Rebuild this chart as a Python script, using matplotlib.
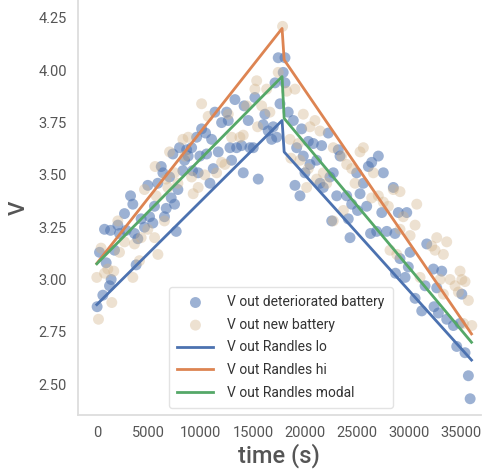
import matplotlib
matplotlib.use("Agg")
import matplotlib.pyplot as plt

# ---- data ----
det_t = [30, 580, 1380, 1220, 3780, 260, 900, 740, 1320, 2020, 2180, 1700, 2820, 3620, 3940,
         2660, 3460, 3240, 4260, 4580, 5070, 5380, 4900, 5860, 5540, 6670, 6500, 7150, 7630,
         6190, 6350, 6990, 7790, 7310, 7950, 8430, 8270, 7470, 9110, 8630, 8780, 9900, 10550,
         11670, 12790, 13430, 13910, 14710, 15030, 12950, 11190, 9740, 10870, 14070, 15510,
         9200, 10070, 10450, 11030, 9590, 11350, 12470, 12630, 11990, 14550, 16150, 15990,
         16470, 16950, 16800, 17280, 13270, 14150, 15190, 17600, 17120, 17910, 17430, 18080,
         18080, 18390, 18880, 19680, 22240, 20320, 20800, 21600, 19200, 19840, 20480, 21120,
         20000, 23200, 23370, 22400, 22720, 21440, 21760, 19040, 19520, 23050, 24010, 24970,
         26090, 26410, 27050, 27530, 25610, 25290, 24490, 25050, 25930, 22570, 24160, 24330,
         26300, 26890, 27380, 28490, 28970, 29780, 27860, 28650, 29130, 30100, 28700, 29620,
         29930, 31700, 32340, 33140, 31540, 32660, 30580, 31220, 32400, 32820, 33620, 34260,
         35070, 34900, 34580, 35380, 35700, 35870]
det_v = [2.87, 2.925, 3.00, 2.97, 3.07, 3.13, 3.08, 3.24, 3.235, 3.26, 3.22, 3.14, 3.235, 3.22, 3.195,
         3.315, 3.36, 3.40, 3.29, 3.25, 3.30, 3.27, 3.45, 3.46, 3.35, 3.34, 3.30, 3.39, 3.23,
         3.54, 3.51, 3.49, 3.43, 3.60, 3.63, 3.57, 3.52, 3.36, 3.63, 3.62, 3.59, 3.59, 3.60,
         3.61, 3.63, 3.63, 3.64, 3.63, 3.63, 3.57, 3.53, 3.51, 3.46, 3.51, 3.48,
         3.52, 3.72, 3.70, 3.67, 3.68, 3.80, 3.80, 3.76, 3.75, 3.76, 3.79, 3.74,
         3.71, 3.73, 3.67, 3.68, 3.86, 3.83, 3.87, 3.84, 3.94, 3.99, 4.06, 4.06,
         3.94, 3.80, 3.76, 3.72, 3.70, 3.66, 3.65, 3.64, 3.63, 3.59, 3.55, 3.57,
         3.51, 3.62, 3.59, 3.49, 3.51, 3.46, 3.44, 3.45, 3.40, 3.40, 3.40, 3.51,
         3.54, 3.56, 3.59, 3.51, 3.46, 3.41, 3.36, 3.33, 3.35, 3.28, 3.29, 3.20,
         3.22, 3.23, 3.32, 3.44, 3.32, 3.32, 3.23, 3.22, 3.10, 3.13, 3.03, 3.01,
         3.06, 3.17, 3.05, 3.04, 2.97, 2.96, 2.91, 2.85, 2.87, 2.84, 2.81, 2.78,
         2.93, 2.79, 2.68, 2.65, 2.54, 2.43]

new_t = [160, 1440, 0, 740, 1630, 1060, 3460, 4100, 5870, 2180, 410, 2660, 3620, 4260, 5550,
         4900, 2020, 4580, 5600, 5700, 6500, 6830, 6990, 8270, 7470, 7790, 6670, 10070, 15360,
         15190, 16320, 14390, 15840, 16630, 17430, 17850, 13750, 15450, 12950, 14070, 8780,
         10700, 12630, 12310, 11990, 11510, 10380, 9110, 9740, 9260, 8460,
         19040, 18240, 19840, 20960, 20480, 21440, 18560, 19360, 22720, 25610, 25290, 23530,
         18650, 19520, 24010, 24490, 26570, 20320, 21760, 21120, 20160, 22090, 24810, 28490,
         29130, 27050, 26410, 27530, 28010, 30740, 23690, 22720, 29450, 30580, 30100, 29130,
         32660, 33620, 32180, 33300, 32500, 28170, 28820, 34900, 31060, 33940, 35070, 35380,
         34420, 35700, 34740, 36030, 35220, 33300, 32980]
new_v = [2.81, 2.89, 3.01, 3.03, 3.04, 3.05, 3.01, 3.09, 3.12, 3.13, 3.15, 3.18, 3.17, 3.20, 3.20,
         3.24, 3.28, 3.43, 3.54, 3.40, 3.28, 3.44, 3.61, 3.67, 3.51, 3.46, 3.48, 3.84, 3.95,
         3.91, 3.91, 3.83, 3.83, 3.80, 3.99, 4.21, 3.68, 3.73, 3.68, 3.69, 3.68,
         3.78, 3.79, 3.55, 3.56, 3.51, 3.50, 3.49, 3.44, 3.41, 3.59,
         3.91, 3.90, 3.79, 3.76, 3.73, 3.71, 3.67, 3.65, 3.63, 3.63, 3.61, 3.59,
         3.58, 3.57, 3.55, 3.53, 3.51, 3.53, 3.51, 3.48, 3.44, 3.46, 3.46, 3.43,
         3.42, 3.40, 3.39, 3.37, 3.35, 3.36, 3.33, 3.28, 3.30, 3.26, 3.21, 3.24,
         3.20, 3.18, 3.16, 3.12, 3.14, 3.14, 3.12, 3.04, 3.01, 3.00, 3.00, 2.99,
         2.97, 2.90, 2.94, 2.78, 2.79, 2.93, 3.00]

line_t = [0, 17800, 18000, 36000]
randles_lo = [2.88, 3.76, 3.61, 2.615]
randles_hi = [3.077, 4.20, 4.05, 2.74]
randles_modal = [3.075, 3.97, 3.77, 2.70]

xticks = [0, 5000, 10000, 15000, 20000, 25000, 30000, 35000]
yticks = [2.50, 2.75, 3.00, 3.25, 3.50, 3.75, 4.00, 4.25]

# ---- style ----
plt.rcParams['font.family'] = ['Roboto', 'DejaVu Sans']
BLUE, ORANGE, GREEN = '#4C72B0', '#DD8452', '#55A868'
BEIGE = '#D2B48C'
GREY = '#555555'

fig = plt.figure(figsize=(4.83, 4.76), dpi=100)
ax = fig.add_axes([0.161, 0.128, 0.835, 0.872])

ax.scatter(det_t, det_v, s=62, color=BLUE, alpha=0.55, edgecolors='none',
           label='V out deteriorated battery')
ax.scatter(new_t, new_v, s=62, color=BEIGE, alpha=0.4, edgecolors='none',
           label='V out new battery')
ax.plot(line_t, randles_lo, color=BLUE, lw=2, label='V out Randles lo')
ax.plot(line_t, randles_hi, color=ORANGE, lw=2, label='V out Randles hi')
ax.plot(line_t, randles_modal, color=GREEN, lw=2, label='V out Randles modal')

ax.set_xlim(-1830, 36920)
ax.set_ylim(2.352, 4.336)
ax.set_xticks(xticks)
ax.set_yticks(yticks)
ax.set_yticklabels([f'{v:.2f}' for v in yticks])
ax.tick_params(length=0, labelsize=10.5, labelcolor=GREY, pad=8)

for s in ['top', 'right']:
    ax.spines[s].set_visible(False)
for s in ['left', 'bottom']:
    ax.spines[s].set_color('#dddddd')
    ax.spines[s].set_linewidth(1.3)

ax.set_xlabel('time (s)', fontsize=17, color=GREY, labelpad=2, fontweight='medium')
ax.set_ylabel('V', fontsize=16, color=GREY, labelpad=6, fontweight='medium')

leg = ax.legend(loc='lower left', bbox_to_anchor=(0.35, 0.143), bbox_transform=fig.transFigure,
                borderaxespad=0, fontsize=10, frameon=True, borderpad=0.6, labelspacing=0.62,
                handlelength=2.6, handletextpad=1.0)
leg.get_frame().set_edgecolor('#dddddd')
for t in leg.get_texts():
    t.set_color('#333333')

fig.savefig('out.png', dpi=100)
